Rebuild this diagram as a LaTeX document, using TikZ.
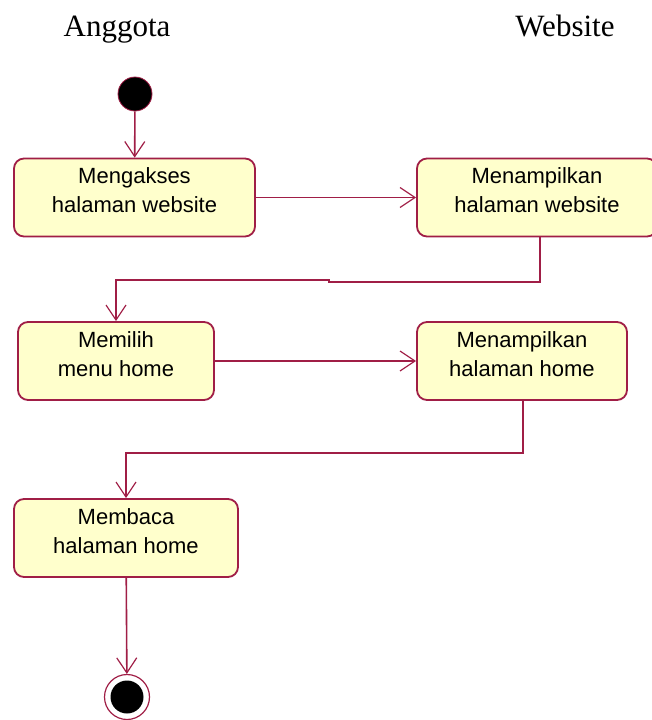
\documentclass[tikz,border=0pt]{standalone}
\usepackage{fontspec}
\setmainfont{Liberation Serif}
\newfontfamily\boxfont{Liberation Sans}
\usetikzlibrary{arrows.meta}
\definecolor{umlred}{RGB}{160,30,70}
\definecolor{umlfill}{RGB}{255,255,204}
\begin{document}
\begin{tikzpicture}[x=1pt,y=-1pt,
  act/.style={draw=umlred,fill=umlfill,line width=1.8pt,rounded corners=10pt,
    minimum height=78pt,align=center,inner sep=0pt,text depth=14pt,
    font=\boxfont\fontsize{22}{29}\selectfont},
  flow/.style={draw=umlred,line width=1.6pt,-{Straight Barb[length=15pt,width=20pt,line width=1.2pt]}},
  lane/.style={anchor=base,font=\fontsize{31}{36}\selectfont}]
\useasboundingbox (0,0) rectangle (652,720);
\node[lane] (anggota) at (117,36) {Anggota};
\node[lane] (website) at (565,36) {Website};
\node[circle,fill=black,draw=umlred,line width=.8pt,minimum size=34pt,inner sep=0pt] (start) at (135,94) {};
\node[act,minimum width=241pt] (akses) at (134.5,197.5) {Mengakses\\halaman website};
\node[act,minimum width=240pt] (tampilweb) at (537,197.5) {Menampilkan\\halaman website};
\node[act,minimum width=196pt] (pilih) at (116,361) {Memilih\\menu home};
\node[act,minimum width=210pt] (tampilhome) at (522,361) {Menampilkan\\halaman home};
\node[act,minimum width=224pt] (baca) at (126,538) {Membaca\\halaman home};
\node[circle,draw=umlred,line width=1.2pt,minimum size=45pt,inner sep=0pt] (finish) at (127,697) {};
\fill[black] (finish.center) circle[radius=16.5pt];
% alur aktivitas
\draw[flow] (start) -- (akses);
\draw[flow] (akses.east) -- (tampilweb.west);
\coordinate (belok) at (329,282);
\draw[flow] ([xshift=3pt]tampilweb.south) |- (belok) -- ++(0,-2) -| (pilih.north);
\draw[flow] (pilih.east) -- (tampilhome.west);
\draw[flow] ([xshift=1pt]tampilhome.south) |- (300,453) -| (baca.north);
\draw[flow] (baca) -- (finish);
\end{tikzpicture}
\end{document}
